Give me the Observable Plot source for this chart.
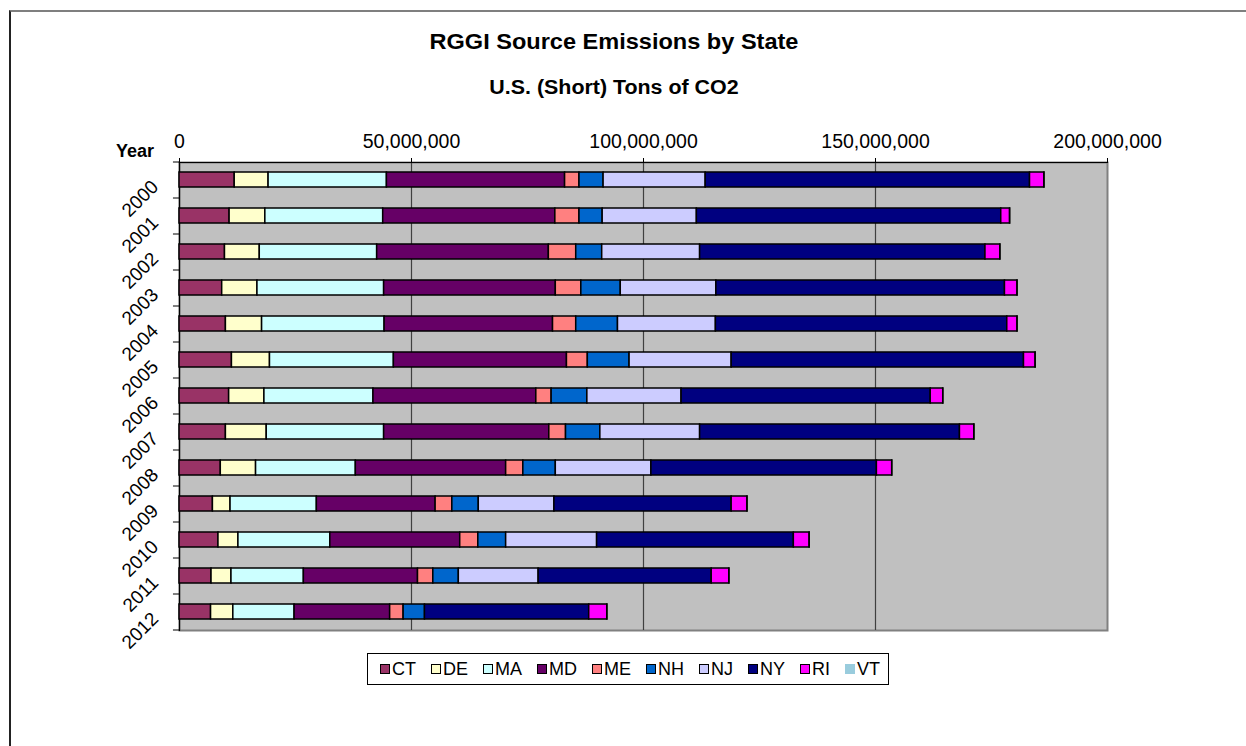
<!DOCTYPE html>
<html>
<head>
<meta charset="utf-8">
<script src="https://cdn.jsdelivr.net/npm/d3@7"></script>
<script src="https://cdn.jsdelivr.net/npm/@observablehq/plot@0.6"></script>
<style>
  html, body { margin: 0; padding: 0; background: #fff; }
  #page { position: relative; width: 1246px; height: 746px; overflow: hidden; font-family: "Liberation Sans", Arial, sans-serif; background: #fff; }
  #frameline { position: absolute; left: 9px; top: 10px; right: -10px; bottom: -10px; border-top: 2px solid #7f7f7f; border-left: 2px solid #222; }
  .ttl { position: absolute; left: 0; width: 1228px; text-align: center; font-weight: bold; line-height: 1; color: #000; transform: scaleX(1.07); transform-origin: 614px 0; }
  #year { position: absolute; left: 116px; top: 142px; font-size: 18px; font-weight: bold; line-height: 1; }
  #chart { position: absolute; left: 0; top: 0; }
  #legend { position: absolute; left: 367px; top: 653px; width: 520px; height: 30px; border: 1px solid #000; background: #fff; display: flex; align-items: center; box-sizing: content-box; padding-left: 0; }
  .item { display: flex; align-items: center; font-size: 18px; line-height: 1; margin-left: 12px; margin-right: 3px; }
  .sw { width: 8px; height: 8px; border: 1px solid #000; margin-right: 2px; }
</style>
</head>
<body>
<div id="page">
  <div id="frameline"></div>
  <div id="chart"></div>
  <div class="ttl" style="top:31px;font-size:22px;">RGGI Source Emissions by State</div>
  <div class="ttl" style="top:77px;font-size:20px;">U.S. (Short) Tons of CO2</div>
  <div id="year">Year</div>
  <div id="legend"></div>
</div>
<script>
const years = ["2000","2001","2002","2003","2004","2005","2006","2007","2008","2009","2010","2011","2012"];
const states = ["CT","DE","MA","MD","ME","NH","NJ","NY","RI","VT"];
const stateColors = ["#993366","#ffffcc","#ccffff","#660066","#ff8080","#0066cc","#ccccff","#000080","#ff00ff","#99ccdd"];

// U.S. short tons of CO2, by state and year (2000..2012)
const CT = [11900000,10800000, 9800000, 9200000,10000000,11300000,10700000,10000000, 8900000, 7200000, 8400000, 6900000, 6800000];
const DE = [ 7300000, 7700000, 7500000, 7600000, 7800000, 8200000, 7600000, 8800000, 7600000, 3800000, 4300000, 4300000, 4800000];
const MA = [25500000,25400000,25300000,27300000,26400000,26700000,23500000,25300000,21500000,18600000,19800000,15600000,13200000];
const MD = [38400000,37100000,37000000,37000000,36300000,37300000,35100000,35600000,32400000,25600000,28000000,24600000,20600000];
const ME = [ 3100000, 5200000, 5900000, 5500000, 5000000, 4500000, 3300000, 3600000, 3700000, 3600000, 3900000, 3300000, 2900000];
const NH = [ 5200000, 5000000, 5600000, 8500000, 9000000, 9000000, 7700000, 7400000, 7000000, 5700000, 6000000, 5500000, 4600000];
const NJ = [22000000,20300000,21100000,20600000,21100000,22000000,20300000,21500000,20600000,16300000,19600000,17200000,       0];
const NY = [69900000,65600000,61500000,62200000,62800000,63000000,53700000,56000000,48600000,38200000,42400000,37300000,35400000];
const RI = [ 3100000, 1900000, 3200000, 2700000, 2200000, 2500000, 2700000, 3100000, 3300000, 3400000, 3400000, 3800000, 3900000];
const VT = [    5000,    5000,    5000,    5000,    5000,    5000,    5000,    5000,    5000,    5000,    5000,    5000,    5000];
const xTicks = [0, 50000000, 100000000, 150000000, 200000000];
const gridValues = [50000000, 100000000, 150000000];

const series = {CT, DE, MA, MD, ME, NH, NJ, NY, RI, VT};
const data = states.flatMap(s => years.map((y, j) => ({year: y, state: s, value: series[s][j]})))
  .filter(d => d.value > 0);

const plot = Plot.plot({
  width: 1246,
  height: 746,
  marginTop: 162,
  marginBottom: 116,
  marginLeft: 179,
  marginRight: 139,
  style: {fontFamily: "'Liberation Sans', Arial, sans-serif", background: "transparent", color: "#000"},
  x: {domain: [0, 200000000]},
  y: {type: "band", domain: years, paddingInner: 0.58, paddingOuter: 0.29, align: 0.5, axis: null},
  color: {domain: states, range: stateColors},
  marks: [
    Plot.frame({fill: "#c0c0c0", stroke: "#808080", strokeWidth: 2}),
    Plot.ruleX(gridValues, {stroke: "#404040", strokeWidth: 1.2}),
    Plot.frame({anchor: "top", stroke: "#000", strokeWidth: 1.2}),
    Plot.frame({anchor: "left", stroke: "#000", strokeWidth: 1.2}),
    Plot.barX(data, {x: "value", y: "year", fill: "state", order: states, stroke: "#000", strokeWidth: 1.5}),
    Plot.axisX({anchor: "top", ticks: xTicks, tickFormat: d3.format(","), tickSize: 5, tickPadding: 10, fontSize: 19.5, label: null}),
    Plot.ruleY(years, {y: d => d, x1: -1300000, x2: 0, dy: -18, stroke: "#000"}),
    Plot.ruleY(years.slice(-1), {y: d => d, x1: -1300000, x2: 0, dy: 18, stroke: "#000"}),
    Plot.text(years, {y: d => d, text: d => d, frameAnchor: "left", dx: -20, dy: 8, rotate: -45, textAnchor: "end", lineAnchor: "bottom", fontSize: 19, fill: "#000"})
  ]
});
document.getElementById("chart").appendChild(plot);

const legend = document.getElementById("legend");
states.forEach((s, i) => {
  const item = document.createElement("div");
  item.className = "item";
  const sw = document.createElement("div");
  sw.className = "sw";
  sw.style.background = stateColors[i];
  if (s === "VT") sw.style.borderColor = stateColors[i];
  const t = document.createElement("span");
  t.textContent = s;
  item.appendChild(sw);
  item.appendChild(t);
  legend.appendChild(item);
});
</script>
</body>
</html>
